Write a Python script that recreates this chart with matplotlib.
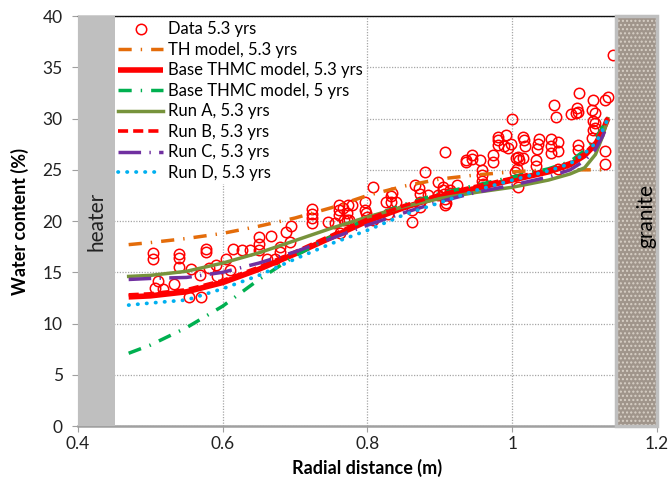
import matplotlib
matplotlib.use("Agg")
import matplotlib.pyplot as plt
from matplotlib.patches import Rectangle

plt.rcParams['font.family'] = ['Lato', 'DejaVu Sans']

# ---------------------------------------------------------------------------
# Measured water content (red circles)
# ---------------------------------------------------------------------------
data_x = [0.503, 0.503, 0.540, 0.540, 0.540, 0.510, 0.506, 0.517, 0.532, 0.556,
          0.554, 0.570, 0.569, 0.577, 0.577, 0.581, 0.591, 0.592, 0.604, 0.610,
          0.614, 0.627, 0.638, 0.650, 0.650, 0.650, 0.666, 0.661, 0.672, 0.679,
          0.679, 0.687, 0.695, 0.693, 0.723, 0.723, 0.723, 0.723, 0.746, 0.755,
          0.760, 0.760, 0.760, 0.773, 0.771, 0.762, 0.766, 0.771, 0.775, 0.768,
          0.778, 0.797, 0.797, 0.798, 0.799, 0.808, 0.808, 0.826, 0.832, 0.834,
          0.832, 0.840, 0.829, 0.861, 0.861, 0.865, 0.871, 0.872, 0.872, 0.873,
          0.884, 0.879, 0.898, 0.898, 0.905, 0.905, 0.906, 0.907, 0.908, 0.907,
          0.914, 0.916, 0.923, 0.907, 0.936, 0.936, 0.945, 0.945, 0.955, 0.958,
          0.958, 0.958, 0.959, 0.974, 0.974, 0.981, 0.981, 0.981, 0.992, 0.988,
          0.994, 0.998, 1.000, 1.005, 1.008, 1.010, 1.004, 1.006, 1.008, 1.015,
          1.016, 1.017, 1.015, 1.033, 1.033, 1.034, 1.035, 1.037, 1.053, 1.053,
          1.053, 1.057, 1.060, 1.063, 1.063, 1.063, 1.081, 1.088, 1.090, 1.091,
          1.092, 1.091, 1.091, 1.112, 1.110, 1.114, 1.111, 1.115, 1.112, 1.114,
          1.110, 1.128, 1.132, 1.128, 1.128, 1.139]
data_y = [16.9, 16.3, 16.8, 16.4, 15.5, 14.2, 13.5, 13.4, 13.9, 15.3,
          12.6, 12.6, 14.7, 17.3, 17.0, 15.4, 15.7, 14.6, 16.3, 15.2,
          17.3, 17.2, 17.2, 18.4, 17.8, 17.2, 18.5, 16.3, 16.3, 17.5,
          17.0, 18.9, 19.5, 18.0, 21.2, 20.7, 20.3, 19.8, 19.9, 19.8,
          21.6, 21.1, 20.6, 21.6, 20.1, 18.8, 21.3, 20.8, 20.1, 20.1,
          21.6, 21.9, 21.1, 20.8, 20.4, 23.3, 20.1, 21.9, 22.4, 22.7,
          21.9, 21.9, 20.7, 21.1, 19.9, 23.5, 23.2, 22.6, 21.9, 21.4,
          22.5, 24.8, 23.8, 22.5, 23.3, 23.0, 22.6, 22.2, 21.8, 21.6,
          23.0, 22.7, 23.5, 26.7, 26.0, 25.8, 26.4, 26.1, 26.0, 25.0,
          24.5, 23.9, 23.6, 26.4, 25.8, 28.2, 27.9, 27.4, 28.4, 27.3,
          27.1, 27.5, 30.0, 26.2, 26.3, 26.0, 24.8, 25.1, 23.3, 28.2,
          27.9, 27.3, 26.2, 26.0, 25.4, 27.0, 27.5, 28.0, 28.0, 27.3,
          26.6, 31.3, 30.2, 27.7, 26.8, 25.1, 30.4, 30.5, 31.0, 30.6,
          32.5, 27.4, 26.9, 31.8, 30.8, 30.5, 29.8, 29.6, 28.9, 29.1,
          28.1, 31.8, 32.1, 26.8, 25.6, 36.2]

# ---------------------------------------------------------------------------
# Model curves
# ---------------------------------------------------------------------------
model_x = [0.47, 0.50, 0.55, 0.60, 0.65, 0.70, 0.75, 0.80, 0.85, 0.90,
           0.95, 1.00, 1.05, 1.08, 1.10, 1.115, 1.125, 1.132]
th_y    = [17.7, 17.9, 18.3, 18.8, 19.5, 20.3, 21.3, 22.5, 23.4, 24.1,
           24.5, 24.8, 25.0, 25.0, 25.0, 25.0, 25.0, 25.0]
base_y  = [12.6, 12.7, 13.1, 14.0, 15.3, 16.8, 18.4, 20.0, 21.3, 22.4,
           23.2, 24.0, 24.8, 25.5, 26.4, 27.5, 28.8, 30.0]
base5_y = [7.1, 7.9, 9.6, 11.7, 14.3, 16.6, 18.5, 20.3, 21.6, 22.7,
           23.5, 24.3, 25.1, 25.8, 26.9, 28.0, 29.2, 30.0]
runa_y  = [14.6, 14.7, 15.1, 15.9, 16.9, 18.1, 19.3, 20.4, 21.4, 22.2,
           22.8, 23.3, 24.0, 24.6, 25.2, 26.5, 28.3, 30.0]
runb_y  = [12.8, 12.9, 13.3, 14.2, 15.5, 17.0, 18.6, 20.2, 21.5, 22.6,
           23.4, 24.2, 25.0, 25.7, 26.6, 27.7, 29.0, 30.1]
runc_y  = [14.3, 14.4, 14.5, 15.0, 15.9, 17.0, 18.3, 19.6, 20.8, 21.9,
           22.8, 23.5, 24.3, 25.0, 25.9, 27.0, 28.3, 29.5]
rund_y  = [11.8, 12.0, 12.3, 13.4, 14.7, 16.3, 17.8, 19.1, 20.6, 21.8,
           23.0, 24.0, 24.9, 25.6, 26.6, 27.6, 28.9, 30.0]

x_ticks = [0.4, 0.6, 0.8, 1.0, 1.2]
x_tick_labels = ["0.4", "0.6", "0.8", "1", "1.2"]
y_ticks = [0, 5, 10, 15, 20, 25, 30, 35, 40]

fig = plt.figure(figsize=(6.7, 4.88), dpi=100)
ax = fig.add_axes([0.1164, 0.127, 0.8642, 0.840])

# data first, model lines drawn on top (Excel series order)
ax.plot(data_x, data_y, linestyle="none", marker="o", markersize=7.5,
        markerfacecolor="none", markeredgecolor="#ff0000", markeredgewidth=1.1,
        label="Data 5.3 yrs", zorder=3)
ax.plot(model_x, th_y, color="#e46c0a", lw=2.5, dashes=(3.8, 2.6, 0.4, 2.6),
        label="TH model, 5.3 yrs", zorder=4)
ax.plot(model_x, base_y, color="#ff0000", lw=4.0, solid_capstyle="butt",
        label="Base THMC model, 5.3 yrs", zorder=4)
ax.plot(model_x, base5_y, color="#00b050", lw=2.5, dashes=(3.8, 2.6, 0.4, 2.6),
        label="Base THMC model, 5 yrs", zorder=4)
ax.plot(model_x, runa_y, color="#77933c", lw=2.5,
        label="Run A, 5.3 yrs", zorder=4)
ax.plot(model_x, runb_y, color="#ff0000", lw=2.6, dashes=(2.8, 1.4),
        label="Run B, 5.3 yrs", zorder=4)
ax.plot(model_x, runc_y, color="#7030a0", lw=2.5, dashes=(6.5, 2.4, 0.4, 2.4),
        label="Run C, 5.3 yrs", zorder=4)
ax.plot(model_x, rund_y, color="#00b0f0", lw=2.7, dashes=(0.1, 2.3),
        dash_capstyle="round", label="Run D, 5.3 yrs", zorder=4)

# heater and granite boxes
ax.add_patch(Rectangle((0.4, 0), 0.051, 40, facecolor="#bfbfbf",
                       edgecolor="none", zorder=5, clip_on=False))
ax.text(0.4255, 20, "heater", rotation=90, ha="center", va="center",
        fontsize=15, color="#222222", zorder=6)
ax.add_patch(Rectangle((1.143, 0), 0.057, 40, facecolor="#a0958b",
                       edgecolor="#d8d0c6", hatch="....", lw=0, zorder=5,
                       clip_on=False))
ax.add_patch(Rectangle((1.143, 0), 0.057, 40, facecolor="none",
                       edgecolor="#bfbfbf", lw=2.5, zorder=6, clip_on=False))
ax.text(1.186, 20.5, "granite", rotation=90, ha="center", va="center",
        fontsize=15, color="#000000", zorder=7)

ax.set_xlim(0.4, 1.2)
ax.set_ylim(0, 40)
ax.set_xticks(x_ticks)
ax.set_xticklabels(x_tick_labels)
ax.set_yticks(y_ticks)
ax.tick_params(labelsize=12.5, length=4, color="#a0a0a0", labelcolor="#222222")
ax.tick_params(axis="y", pad=7)
ax.grid(True, linestyle=(0, (1, 1.2)), color="#a6a6a6", lw=0.9, zorder=0)
ax.set_axisbelow(True)

ax.spines["right"].set_visible(False)
ax.spines["left"].set_color("#a0a0a0")
ax.spines["bottom"].set_color("#a0a0a0")
ax.spines["bottom"].set_linewidth(1.8)
ax.spines["top"].set_color("#111111")
ax.spines["top"].set_linewidth(1.0)

ax.set_xlabel("Radial distance (m)", fontsize=13, fontweight="bold", labelpad=5)
ax.set_ylabel("Water content (%)", fontsize=13, fontweight="bold", labelpad=10)

leg = ax.legend(loc="upper left", bbox_to_anchor=(0.064, 0.995), fontsize=12,
                frameon=True, facecolor="white", edgecolor="none", framealpha=1,
                borderaxespad=0, borderpad=0.2, labelspacing=0.27,
                handlelength=2.7, handletextpad=0.3, fancybox=False)
leg.set_zorder(8)

fig.savefig("out.png", dpi=100)
